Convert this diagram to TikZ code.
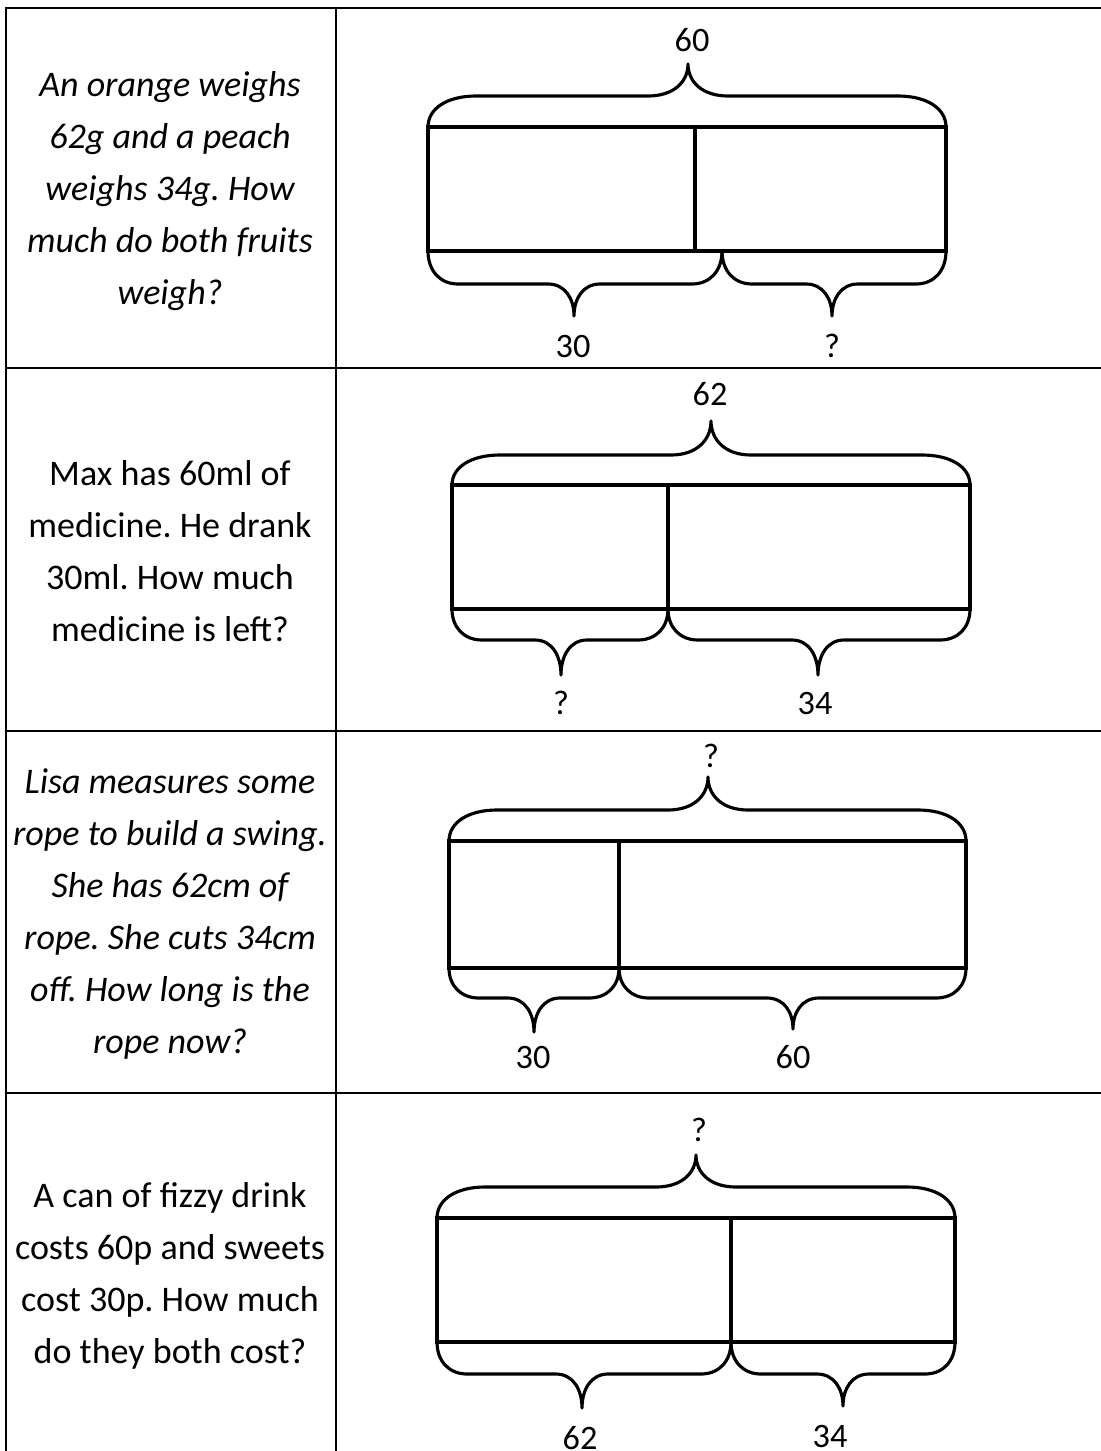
\documentclass[tikz,border=0pt]{standalone}
\usepackage{fontspec}
\setmainfont{Carlito}
\frenchspacing
% #1 left x, #2 right x, #3 tip x, #4 bar edge y, #5 brace line y, #6 tip y, #7 corner, #8 cusp
\newcommand{\barbrace}[8]{%
  \draw[brace] (#1,#4) .. controls (#1,{#4+0.6*(#5-#4)}) and ({#1+0.4*#7},#5) .. ({#1+#7},#5)
    -- ({#3-#8},#5) .. controls ({#3-0.35*#8},#5) and (#3,{#5+0.45*(#6-#5)}) .. (#3,#6)
    .. controls (#3,{#5+0.45*(#6-#5)}) and ({#3+0.35*#8},#5) .. ({#3+#8},#5)
    -- ({#2-#7},#5) .. controls ({#2-0.4*#7},#5) and (#2,{#4+0.6*(#5-#4)}) .. (#2,#4);}

\begin{document}
\begin{tikzpicture}[x=0.02cm,y=-0.02cm,
    tableline/.style={line width=1.1pt},
    bar/.style={line width=2.2pt},
    brace/.style={line width=1.8pt,line join=round,line cap=round},
    lbl/.style={font=\fontsize{19.5}{22}\selectfont},
    txt/.style={align=center,font=\fontsize{20.5}{29.5}\selectfont},
    itxt/.style={align=center,font=\fontsize{20.5}{29.5}\selectfont\itshape}]
      \useasboundingbox (0,0) rectangle (1101,1451);

      \draw[tableline] (6,1451) -- (6,8) -- (1101,8);
      \draw[tableline] (336,8) -- (336,1451);
      \draw[tableline] (6,368) -- (1101,368);
      \draw[tableline] (6,731) -- (1101,731);
      \draw[tableline] (6,1093) -- (1101,1093);

      \path
      (170,191) node[itxt](q1) {An orange weighs\\62g and a peach\\weighs 34g. How\\much do both fruits\\weigh?}
      (170,551) node[txt](q2) {Max has 60ml of\\medicine. He drank\\30ml. How much\\medicine is left?}
      (170,914) node[itxt](q3) {Lisa measures some\\rope to build a swing.\\She has 62cm of\\rope. She cuts 34cm\\off. How long is the\\rope now?}
      (170,1276) node[txt](q4) {A can of fizzy drink\\costs 60p and sweets\\cost 30p. How much\\do they both cost?}
      ;

      \draw[bar] (428,127) rectangle (946,251);
      \draw[bar] (695,127) -- (695,251);
      \barbrace{428}{946}{688}{127}{96}{64}{48}{40}
      \barbrace{428}{722}{574}{251}{284}{316}{30}{26}
      \barbrace{722}{946}{832}{251}{284}{316}{30}{26}
      \path
      (692,40) node[lbl](top1) {60}
      (573,346) node[lbl](left1) {30}
      (832,346) node[lbl](right1) {?}
      ;

      \draw[bar] (452,485) rectangle (970,609);
      \draw[bar] (668,485) -- (668,609);
      \barbrace{452}{970}{711}{485}{455}{421}{48}{40}
      \barbrace{452}{668}{561}{609}{640}{675}{30}{26}
      \barbrace{668}{970}{818}{609}{640}{675}{30}{26}
      \path
      (710,394) node[lbl](top2) {62}
      (561,703) node[lbl](left2) {?}
      (815,703) node[lbl](right2) {34}
      ;

      \draw[bar] (449,841) rectangle (966,968);
      \draw[bar] (619,841) -- (619,968);
      \barbrace{449}{966}{708}{841}{810}{777}{48}{40}
      \barbrace{449}{619}{534}{968}{998}{1032}{30}{26}
      \barbrace{619}{966}{793}{968}{998}{1029}{30}{26}
      \path
      (711,756) node[lbl](top3) {?}
      (533,1057) node[lbl](left3) {30}
      (793,1057) node[lbl](right3) {60}
      ;

      \draw[bar] (437,1218) rectangle (955,1342);
      \draw[bar] (731,1218) -- (731,1342);
      \barbrace{437}{955}{696}{1218}{1187}{1155}{48}{40}
      \barbrace{437}{731}{582}{1342}{1374}{1408}{30}{26}
      \barbrace{731}{955}{843}{1342}{1374}{1406}{30}{26}
      \path
      (699,1130) node[lbl](top4) {?}
      (580,1438) node[lbl](left4) {62}
      (830,1436) node[lbl](right4) {34}
      ;
    \end{tikzpicture}
\end{document}
